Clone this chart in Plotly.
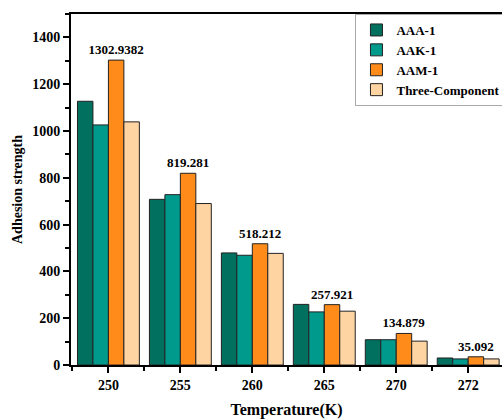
import plotly.graph_objects as go

categories = ["250", "255", "260", "265", "270", "272"]
aaa1 = [1127, 708, 479, 259, 108, 30]
aak1 = [1026, 728, 469, 227, 108, 26]
aam1 = [1302.9382, 819.281, 518.212, 257.921, 134.879, 35.092]
three = [1039, 690, 477, 230, 102, 26]
aam1_labels = ["1302.9382", "819.281", "518.212", "257.921", "134.879", "35.092"]

series = [
    ("AAA-1", aaa1, "#02705F"),
    ("AAK-1", aak1, "#009A8C"),
    ("AAM-1", aam1, "#FF8C1A"),
    ("Three-Component", three, "#FFD4A3"),
]

FONT = "Liberation Serif"
xpos = list(range(len(categories)))

fig = go.Figure()
for name, vals, col in series:
    kw = {}
    if name == "AAM-1":
        kw = dict(text=aam1_labels, textposition="outside", cliponaxis=False,
                  constraintext="none",
                  textfont=dict(family=FONT, size=13, color="black", weight="bold"))
    fig.add_trace(go.Bar(x=xpos, y=vals, name=name,
                         marker=dict(color=col, line=dict(color="#222", width=1)), **kw))

fig.update_layout(
    width=502, height=419,
    margin=dict(l=71, r=0, t=14, b=54, autoexpand=False),
    barmode="group", bargap=0.14, bargroupgap=0,
    plot_bgcolor="white", paper_bgcolor="white",
    font=dict(family=FONT, size=14, color="black"),
    legend=dict(x=0.66, y=1.0, xanchor="left", yanchor="top",
                bgcolor="white", bordercolor="#aaa", borderwidth=1,
                font=dict(family=FONT, size=13, color="black", weight="bold"),
                tracegroupgap=0, itemwidth=30),
)
fig.update_xaxes(
    range=[-0.52, 5.47], tickvals=xpos, ticktext=categories,
    showline=True, linecolor="black", linewidth=2, mirror=True,
    ticks="outside", ticklen=6, tickwidth=2, tickcolor="black",
    showgrid=False, zeroline=False,
    minor=dict(tick0=0.5, dtick=1, ticks="outside", ticklen=4, tickwidth=2, tickcolor="black", showgrid=False),
    tickfont=dict(family=FONT, size=14, weight="bold"),
    title=dict(text="Temperature(K)", font=dict(family=FONT, size=16, weight="bold"), standoff=14),
)
fig.update_yaxes(
    range=[0, 1500], dtick=200, tick0=0,
    showline=True, linecolor="black", linewidth=2,
    ticks="outside", ticklen=6, tickwidth=2, tickcolor="black",
    showgrid=False, zeroline=False,
    minor=dict(dtick=100, ticks="outside", ticklen=4, tickwidth=2, tickcolor="black", showgrid=False),
    tickfont=dict(family=FONT, size=14, weight="bold"),
    title=dict(text="Adhesion strength", font=dict(family=FONT, size=14, weight="bold"), standoff=6),
)

fig.write_html("out.html")
